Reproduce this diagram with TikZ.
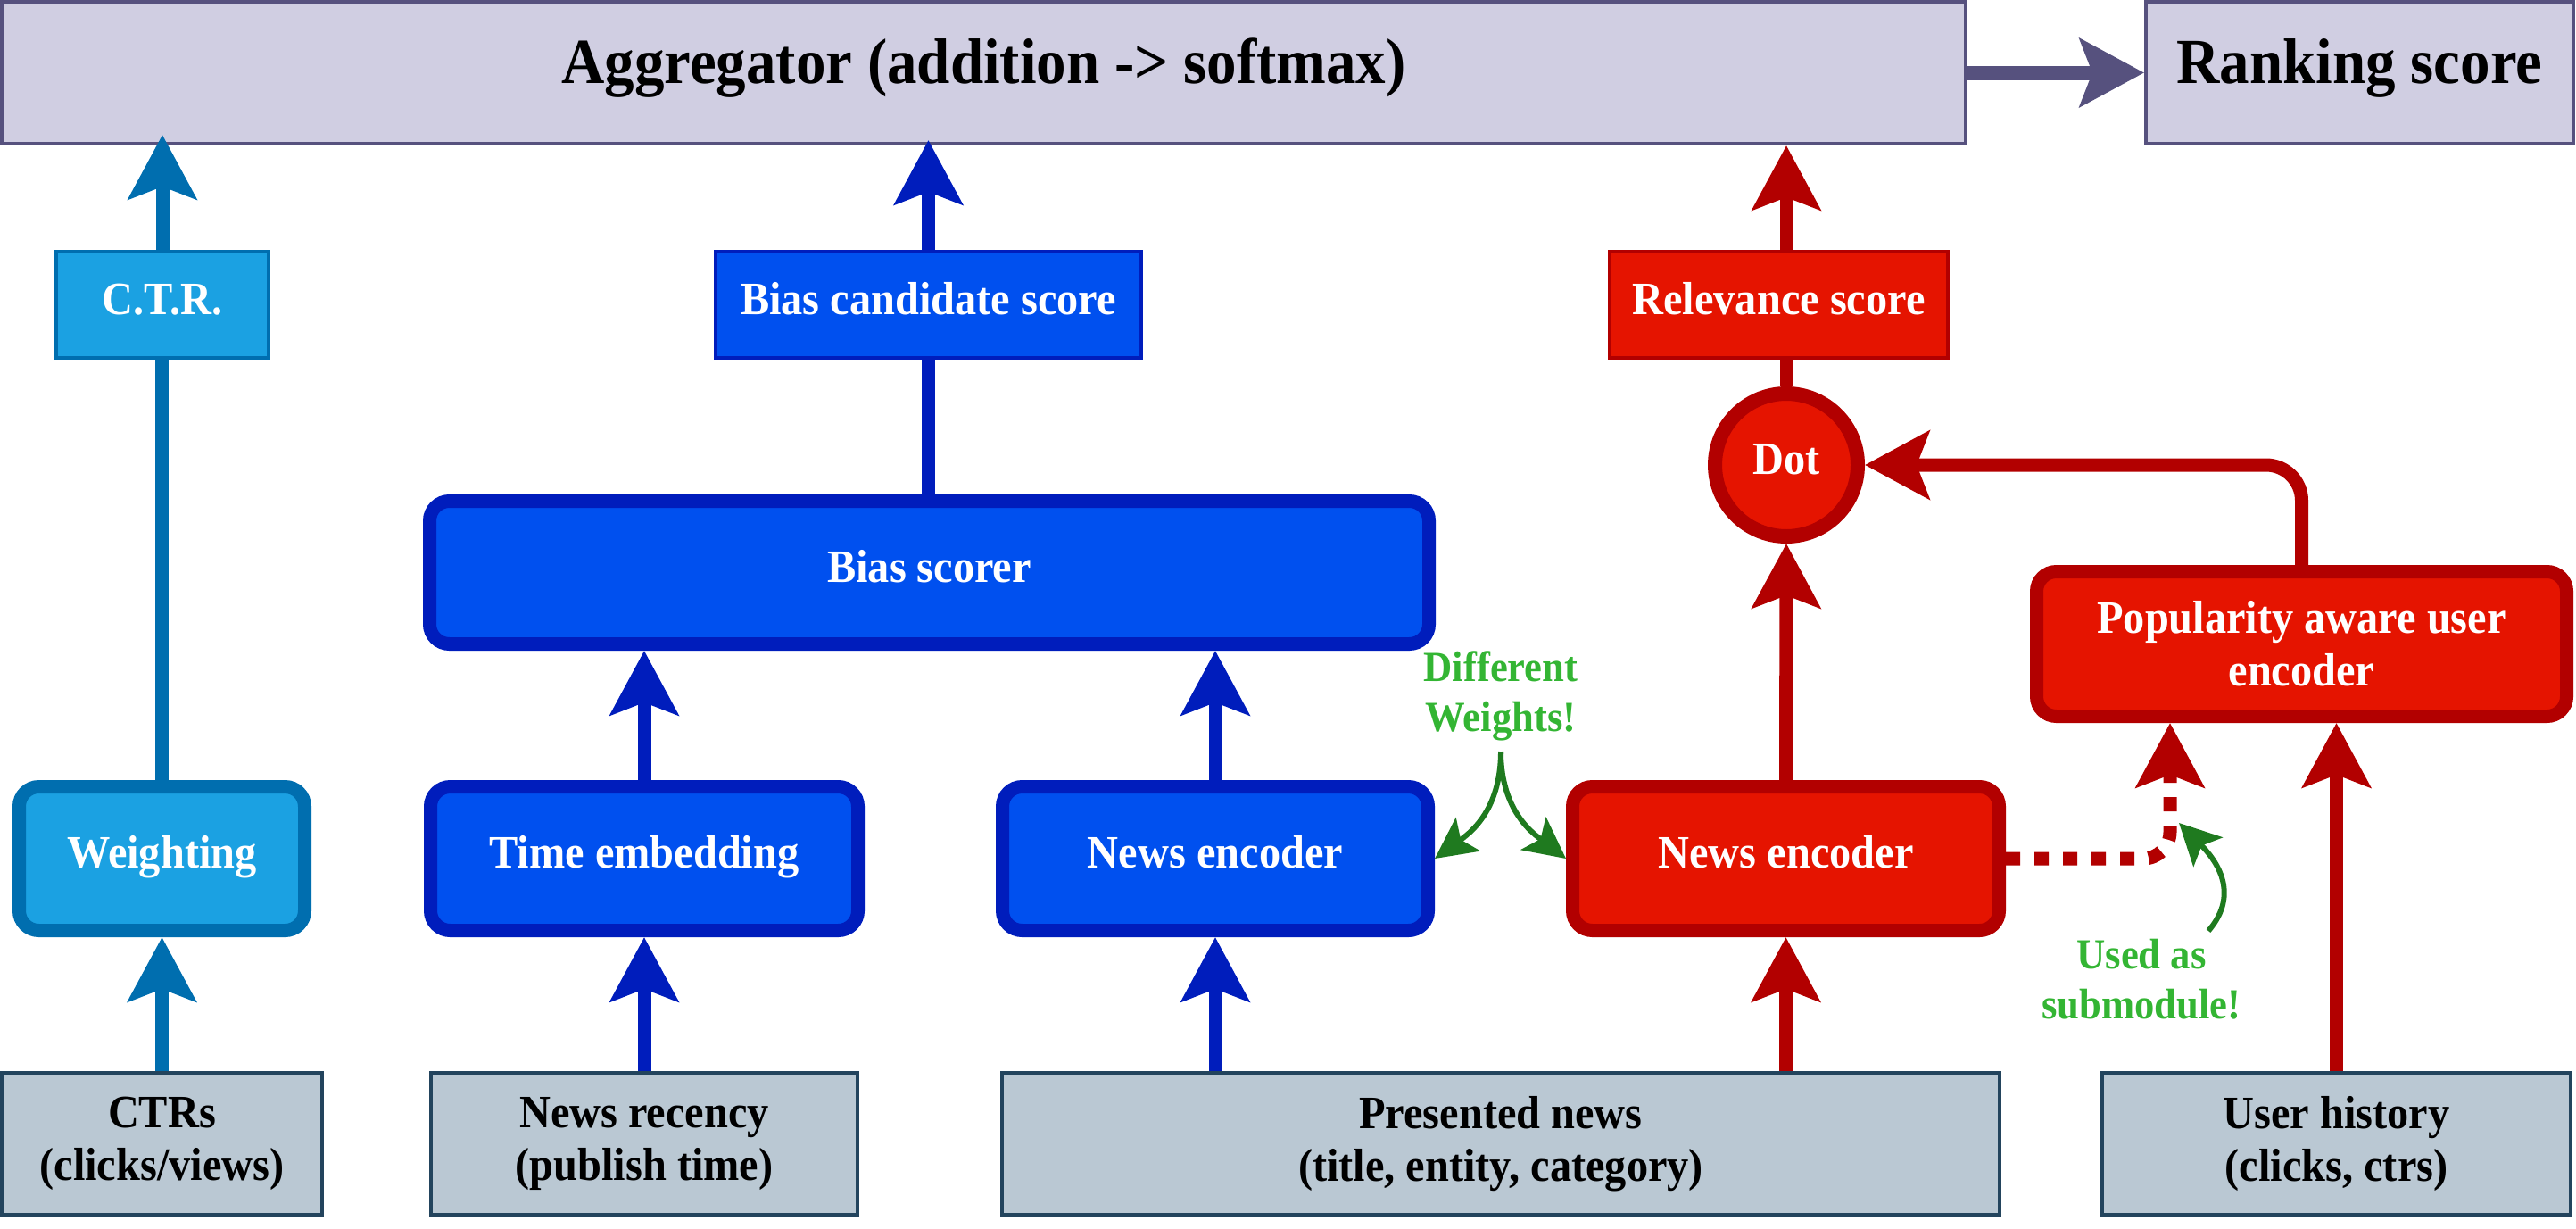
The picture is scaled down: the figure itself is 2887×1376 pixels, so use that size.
\documentclass[tikz,border=0pt]{standalone}
\usepackage{fontspec}
\setmainfont{Liberation Serif}[FakeStretch=0.93]
\usetikzlibrary{arrows.meta}
\definecolor{aggfill}{HTML}{D0CEE2}
\definecolor{aggline}{HTML}{56517E}
\definecolor{ltfill}{HTML}{1BA1E2}
\definecolor{ltline}{HTML}{006EAF}
\definecolor{bfill}{HTML}{0050EF}
\definecolor{bline}{HTML}{001DBC}
\definecolor{rfill}{HTML}{E51400}
\definecolor{rline}{HTML}{B20000}
\definecolor{gfill}{HTML}{BAC8D3}
\definecolor{gline}{HTML}{23445D}
\definecolor{garrow}{HTML}{1F7A1F}
\definecolor{gtext}{HTML}{33B533}
\tikzset{
  boxfont/.style={font=\bfseries\fontsize{52}{59}\selectfont},
  bigfont/.style={font=\bfseries\fontsize{72}{80}\selectfont},
  oneline/.style={text height=35pt, text depth=14pt},
  bigline/.style={text height=50pt, text depth=27pt},
  thinbox/.style={draw, line width=4pt, inner sep=0pt, align=center, boxfont},
  thickbox/.style={draw, line width=15pt, rounded corners=22pt, inner sep=0pt, align=center, text=white, boxfont},
  aggbox/.style={thinbox, draw=aggline, fill=aggfill, bigfont, bigline},
  ltbox/.style={thinbox, draw=ltline, fill=ltfill, text=white, oneline},
  bbox/.style={thinbox, draw=bline, fill=bfill, text=white, oneline},
  redbox/.style={thinbox, draw=rline, fill=rfill, text=white, oneline},
  greybox/.style={thinbox, draw=gline, fill=gfill},
  heavy/.style={line width=15pt, -{Stealth[length=72pt,width=76pt,inset=14pt]}},
  plainline/.style={line width=15pt},
  garr/.style={draw=garrow, line width=6pt, -{Stealth[length=46pt,width=46pt,inset=10pt]}},
  gnote/.style={text=gtext, align=center, inner sep=0pt, font=\bfseries\fontsize{48}{56}\selectfont}
}
\begin{document}
\begin{tikzpicture}[x=1pt,y=-1pt]
\useasboundingbox (0,0) rectangle (2887,1376);
% top row
\node[aggbox, minimum width=2201pt, minimum height=159pt] (agg) at (1102.5,81.5) {Aggregator (addition -> softmax)};
\node[aggbox, minimum width=479pt, minimum height=159pt] (rank) at (2644.5,81.5) {Ranking score};
% score boxes
\node[ltbox, minimum width=238pt, minimum height=119pt] (ctr) at (182,341.5) {C.T.R.};
\node[bbox, minimum width=477pt, minimum height=119pt] (bc) at (1040.5,341.5) {Bias candidate score};
\node[redbox, minimum width=379pt, minimum height=119pt] (rel) at (1993.5,341.5) {Relevance score};
% dot
\node[circle, draw=rline, fill=rfill, line width=16pt, minimum size=160pt, inner sep=0pt, text=white, boxfont, oneline] (dot) at (2002,521) {Dot};
% processing boxes
\node[thickbox, oneline, draw=bline, fill=bfill, minimum width=1120pt, minimum height=160pt] (bs) at (1041.5,641.5) {Bias scorer};
\node[thickbox, draw=rline, fill=rfill, minimum width=594pt, minimum height=162pt] (pop) at (2579.5,721.5) {Popularity aware user\\encoder};
\node[thickbox, oneline, draw=ltline, fill=ltfill, minimum width=320pt, minimum height=161pt] (wt) at (181.5,962) {Weighting};
\node[thickbox, oneline, draw=bline, fill=bfill, minimum width=479pt, minimum height=161pt] (te) at (722,962) {Time embedding};
\node[thickbox, oneline, draw=bline, fill=bfill, minimum width=477pt, minimum height=161pt] (bne) at (1362,962) {News encoder};
\node[thickbox, oneline, draw=rline, fill=rfill, minimum width=478pt, minimum height=161pt] (rne) at (2001.5,962) {News encoder};
% inputs
\node[greybox, minimum width=359pt, minimum height=159pt] (ctrs) at (181.5,1281.5) {CTRs\\(clicks/views)};
\node[greybox, minimum width=478pt, minimum height=159pt] (nr) at (722,1281.5) {News recency\\(publish time)};
\node[greybox, minimum width=1118pt, minimum height=159pt] (pn) at (1682,1281.5) {Presented news\\(title, entity, category)};
\node[greybox, minimum width=525pt, minimum height=159pt] (uh) at (2618.5,1281.5) {User history\\(clicks, ctrs)};
% notes
\node[gnote] (dw) at (1682,780) {Different\\Weights!};
\node[gnote] (us) at (2400,1097) {Used as\\submodule!};
\coordinate (fork) at (1682,842);
% aggregator -> ranking
\draw[heavy, draw=aggline, line width=16pt] (agg.east) -- (rank.west);
% CTR column
\draw[heavy, draw=ltline] (ctr.north) -- ([yshift=12pt]ctr.north |- agg.south);
\draw[plainline, draw=ltline] (wt.north) -- (wt.north |- ctr.south);
\draw[heavy, draw=ltline] (wt.south |- ctrs.north) -- (wt.south);
% bias column
\draw[heavy, draw=bline] (bc.north) -- ([yshift=6pt]bc.north |- agg.south);
\draw[plainline, draw=bline] (bc.south |- bs.north) -- (bc.south);
\draw[heavy, draw=bline] (te.north) -- (te.north |- bs.south);
\draw[heavy, draw=bline] (bne.north) -- (bne.north |- bs.south);
\draw[heavy, draw=bline] (nr.north) -- (te.south);
\draw[heavy, draw=bline] (bne.south |- pn.north) -- (bne.south);
% relevance column
\draw[heavy, draw=rline] (rel.north -| dot.center) -- (agg.south -| dot.center);
\draw[plainline, draw=rline] (dot.north) -- (dot.north |- rel.south);
\draw[heavy, draw=rline] (rne.north) -- (dot.south);
\draw[heavy, draw=rline] (rne.south |- pn.north) -- (rne.south);
\draw[heavy, draw=rline, rounded corners=40pt] (pop.north) |- (dot.east);
\draw[heavy, draw=rline] (uh.north) -- (uh.north |- pop.south);
\draw[heavy, draw=rline, dash pattern=on 16pt off 16pt, rounded corners=30pt] (rne.east) -| ([xshift=-147.5pt]pop.south);
% green notes arrows
\draw[garr] (fork) .. controls (1682,910) and (1645,935) .. (bne.east);
\draw[garr] (fork) .. controls (1682,910) and (1720,935) .. (rne.west);
\draw[garr] (2475,1043) .. controls (2512,1000) and (2482,962) .. (2442,922);
\end{tikzpicture}
\end{document}
